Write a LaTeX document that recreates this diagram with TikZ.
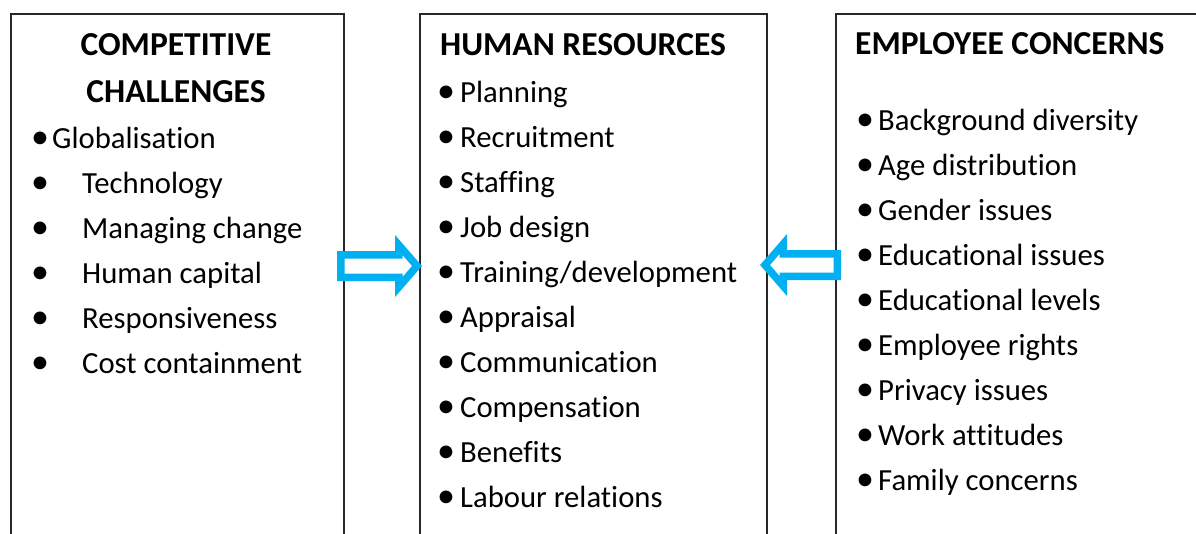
\documentclass[tikz,border=0pt]{standalone}
\usepackage{fontspec}
\setmainfont{Carlito}[Ligatures=NoCommon]
\definecolor{arrowblue}{RGB}{0,176,240}
\definecolor{boxline}{RGB}{40,40,40}
\begin{document}
\begin{tikzpicture}[x=1pt,y=-1pt,
  box/.style={draw=boxline, line width=1.5pt, anchor=north west, inner sep=0pt},
  headtext/.style={font=\fontsize{33.5}{40}\selectfont\bfseries, inner sep=0pt, anchor=base west},
  itemtext/.style={font=\fontsize{30.7}{36}\selectfont, inner sep=0pt, anchor=base west},
  bul/.style={font=\fontsize{36}{40}\selectfont, inner sep=0pt, anchor=base},
  blockarrow/.style={draw=arrowblue, fill=white, line width=7.5pt, line join=miter}]
\useasboundingbox (0,0) rectangle (1196,533);
\fill[white] (0,0) rectangle (1196,533);
\clip (0,0) rectangle (1196,533);

% boxes (open at the bottom of the picture)
\node[box, minimum width=333pt, minimum height=600pt] (cc) at (10,13) {};
\node[box, minimum width=347pt, minimum height=600pt] (hr) at (419,13) {};
\node[box, minimum width=400pt, minimum height=600pt] (ec) at (835,13) {};

% headings
\node[headtext, anchor=base] (cch1) at (176,55) {COMPETITIVE};
\node[headtext, anchor=base] (cch2) at (176,102) {CHALLENGES};
\node[headtext] (hrh) at (440,55) {HUMAN RESOURCES};
\node[headtext] (ech) at (855,54) {EMPLOYEE CONCERNS};

% competitive challenges
\node[bul] (ccb1) at (40,148) {•};
\node[itemtext] (cct1) at (52,148) {Globalisation};
\foreach \t [count=\i from 2] in {Technology, Managing change, Human capital, Responsiveness, Cost containment}{
  \node[bul] (ccb\i) at (40,{148+45*(\i-1)}) {•};
  \node[itemtext] (cct\i) at (82,{148+45*(\i-1)}) {\t};
}

% human resources
\foreach \t [count=\i] in {Planning, Recruitment, Staffing, Job design, Training/development, Appraisal, Communication, Compensation, Benefits, Labour relations}{
  \node[bul] (hrb\i) at (446,{57+45*\i}) {•};
  \node[itemtext] (hrt\i) at (460,{57+45*\i}) {\t};
}

% employee concerns
\foreach \t [count=\i] in {Background diversity, Age distribution, Gender issues, Educational issues, Educational levels, Employee rights, Privacy issues, Work attitudes, Family concerns}{
  \node[bul] (ecb\i) at (865,{85+45*\i}) {•};
  \node[itemtext] (ect\i) at (878,{85+45*\i}) {\t};
}

% hollow block arrows
\draw[blockarrow] (340.75,254.75) -- (398.75,254.75) -- (398.75,245) -- (417,266)
  -- (398.75,287) -- (398.75,277.25) -- (340.75,277.25) -- cycle;
\draw[blockarrow] (837.25,253.75) -- (783.25,253.75) -- (783.25,244) -- (765,265)
  -- (783.25,286) -- (783.25,276.25) -- (837.25,276.25) -- cycle;
\end{tikzpicture}
\end{document}
